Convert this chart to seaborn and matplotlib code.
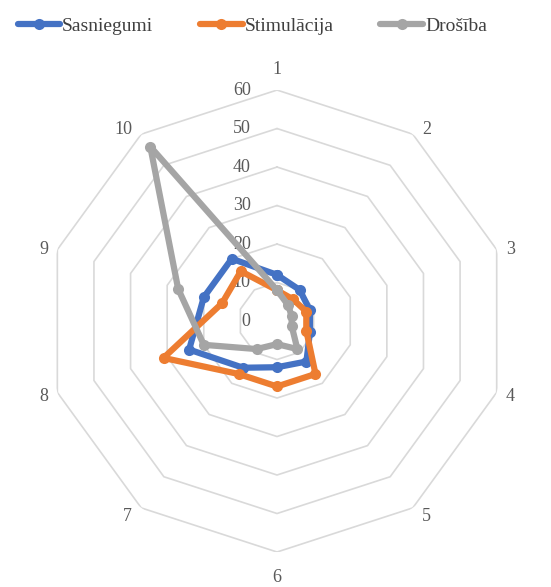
import numpy as np
import pandas as pd
import matplotlib
matplotlib.use('Agg')
import matplotlib.pyplot as plt
import seaborn as sns

# axis categories 1..10
categories = ['1', '2', '3', '4', '5', '6', '7', '8', '9', '10']
sasniegumi = [12, 10, 9, 9, 13, 12, 15, 24, 20, 20]
stimulacija = [8, 7, 8, 8, 17, 17, 17, 31, 15, 16]
drosiba = [8, 5, 4, 4, 9, 6, 9, 20, 27, 56]
series_names = ['Sasniegumi', 'Stimulācija', 'Drošība']
colors = ['#4472C4', '#ED7D31', '#A5A5A5']
r_ticks = [0, 10, 20, 30, 40, 50, 60]

sns.set_style("white")
plt.rcParams['font.family'] = ['Liberation Serif', 'DejaVu Serif']

n = len(categories)
angles = np.linspace(0, 2 * np.pi, n, endpoint=False)

rows = []
for name, vals in zip(series_names, [sasniegumi, stimulacija, drosiba]):
    for a, v in zip(list(angles) + [2 * np.pi], list(vals) + [vals[0]]):
        rows.append({'serie': name, 'angle': a, 'value': v})
df = pd.DataFrame(rows)

fig = plt.figure(figsize=(5.51, 5.87), dpi=100)
ax = fig.add_axes([0.0835, 0.0596, 0.8385, 0.787], projection='polar')
ax.set_theta_zero_location('N')
ax.set_theta_direction(-1)
ax.set_ylim(0, 60)
ax.grid(False)
ax.spines['polar'].set_visible(False)
ax.set_xticks([])
ax.set_yticks([])

# decagon rings
ring_a = np.append(angles, angles[0])
for t in r_ticks[1:]:
    ax.plot(ring_a, [t] * (n + 1), color='#D9D9D9', lw=1.2, zorder=1)

for t in r_ticks:
    ax.annotate(str(t), xy=(0, t), xytext=(-19, 0), textcoords='offset points',
                ha='right', va='center', fontsize=13, color='#595959', zorder=2)

# category labels, excel style: beside the outer vertex
for a, c in zip(angles, categories):
    s, co = np.sin(a), np.cos(a)
    if abs(s) < 0.1:
        off = (0, 21 if co > 0 else -25)
        ha = 'center'
    else:
        off = (9 if s > 0 else -9, co * 8 - 2)
        ha = 'left' if s > 0 else 'right'
    ax.annotate(c, xy=(a, 60), xytext=off, textcoords='offset pixels',
                ha=ha, va='center', fontsize=13, color='#595959',
                annotation_clip=False)

for name, col in zip(series_names, colors):
    sub = df[df['serie'] == name]
    sns.lineplot(data=sub, x='angle', y='value', ax=ax, color=col, lw=4.5,
                 marker='o', markersize=8, markeredgewidth=0, label=name,
                 sort=False, zorder=3, legend=False)

ax.set_xlabel('')
ax.set_ylabel('')
handles, labels = ax.get_legend_handles_labels()
fig.legend(handles, labels, loc='upper left', bbox_to_anchor=(0.0, 1.0),
           ncol=3, frameon=False, fontsize=14, handlelength=2.2,
           columnspacing=2.4, handletextpad=0.1, labelcolor='#404040')

plt.savefig('out.png', dpi=100)
